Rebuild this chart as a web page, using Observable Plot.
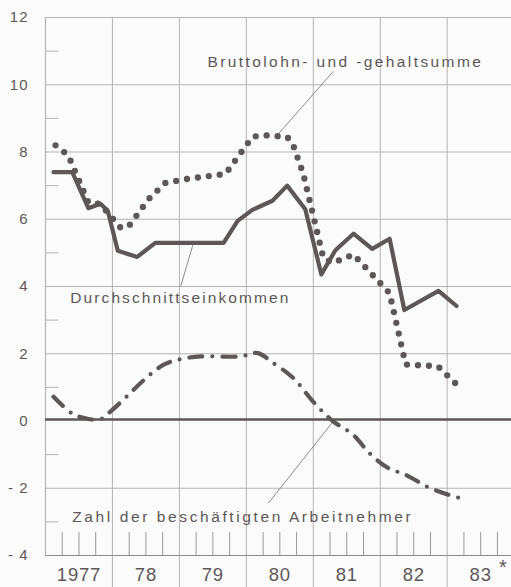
<!DOCTYPE html>
<html><head><meta charset="utf-8">
<script src="https://cdn.jsdelivr.net/npm/d3@7"></script>
<script src="https://cdn.jsdelivr.net/npm/@observablehq/plot@0.6"></script>
<style>
html,body{margin:0;padding:0;background:#fbfbfb;}
#chart svg{display:block;}
</style></head><body><div id="chart"></div>
<script>
// y axis
const yTicks = [12, 10, 8, 6, 4, 2, 0, -2, -4];
const yGrid = [10, 8, 6, 4, 2, -2];
const yMinor = [11, 9, 7, 5, 3, 1, -1, -3];
// x axis (years)
const years = [1977, 1978, 1979, 1980, 1981, 1982, 1983];
const yearLabels = ["1977", "78", "79", "80", "81", "82", "83"];
const yearBounds = [1978, 1979, 1980, 1981, 1982, 1983];
const quarterTicks = years.flatMap(y => [y + 0.25, y + 0.5, y + 0.75]);

// Durchschnittseinkommen (solid)
const einkommenX = [1977.12, 1977.40, 1977.64, 1977.82, 1977.93, 1978.08, 1978.37, 1978.64, 1979.66, 1979.87, 1980.09, 1980.39, 1980.61, 1980.88, 1981.12, 1981.33, 1981.60, 1981.88, 1982.14, 1982.36, 1982.87, 1983.14];
const einkommenY = [7.4, 7.4, 6.33, 6.46, 6.25, 5.06, 4.88, 5.3, 5.3, 5.95, 6.28, 6.55, 7.0, 6.3, 4.36, 5.08, 5.57, 5.12, 5.42, 3.3, 3.87, 3.42];

// Bruttolohn- und -gehaltsumme (dotted)
const bruttoX = [1977.15, 1977.34, 1977.64, 1977.82, 1978.12, 1978.24, 1978.54, 1978.79, 1979.12, 1979.69, 1980.09, 1980.26, 1980.61, 1980.70, 1980.85, 1981.15, 1981.29, 1981.60, 1982.14, 1982.38, 1982.86, 1983.20];
const bruttoY = [8.2, 7.9, 6.5, 6.45, 5.75, 5.78, 6.6, 7.08, 7.2, 7.35, 8.45, 8.5, 8.45, 8.2, 7.35, 4.85, 4.7, 4.95, 3.8, 1.68, 1.63, 0.97];

// Zahl der beschäftigten Arbeitnehmer (dash-dot)
const zahlX = [1977.12, 1977.40, 1977.60, 1977.82, 1977.97, 1978.22, 1978.46, 1978.76, 1979.02, 1979.32, 1979.91, 1980.17, 1980.39, 1980.70, 1981.00, 1981.29, 1981.59, 1981.85, 1982.12, 1982.38, 1982.75, 1983.20];
const zahlY = [0.72, 0.22, 0.08, 0.05, 0.28, 0.74, 1.2, 1.67, 1.84, 1.92, 1.92, 2.02, 1.74, 1.28, 0.57, 0.0, -0.4, -0.98, -1.4, -1.6, -2.0, -2.3];

// annotations (label text, anchor position in data coordinates, leader line)
const labelTexts = ["Bruttolohn- und -gehaltsumme", "Durchschnittseinkommen", "Zahl der beschäftigten Arbeitnehmer"];
const labelX = [1979.42, 1977.37, 1977.40];
const labelY = [10.67, 3.66, -2.85];
const labelTracking = ["2.4px", "2.1px", "2.6px"];
const leaderX1 = [1981.30, 1979.02, 1980.33];
const leaderY1 = [10.40, 4.01, -2.44];
const leaderX2 = [1980.44, 1979.20, 1981.29];
const leaderY2 = [8.45, 5.23, -0.03];

const toRows = (xs, ys) => xs.map((x, i) => ({x, y: ys[i]}));
const einkommen = toRows(einkommenX, einkommenY);
const brutto = toRows(bruttoX, bruttoY);
const zahl = toRows(zahlX, zahlY);
const labels = labelTexts.map((t, i) => ({t, x: labelX[i], y: labelY[i]}));
const leaders = labelTexts.map((t, i) => ({x1: leaderX1[i], y1: leaderY1[i], x2: leaderX2[i], y2: leaderY2[i]}));
const yearRows = years.map((y, i) => ({x: y + 0.5, label: yearLabels[i]}));

const ink = "#5e5757";
const grid = "#b7b3b3";
const font = "'Liberation Sans', Arial, sans-serif";

const chart = Plot.plot({
  width: 511,
  height: 587,
  marginLeft: 45,
  marginRight: 0,
  marginTop: 17,
  marginBottom: 32,
  style: {background: "#fbfbfb", fontFamily: font, fontSize: "14px", color: ink},
  x: {domain: [1977, 1977 + 466 / 66.95], axis: null},
  y: {domain: [-4, 12], axis: null},
  marks: [
    Plot.ruleY(yGrid, {stroke: grid, strokeWidth: 1}),
    Plot.ruleY([12], {stroke: grid, strokeWidth: 1.2}),
    Plot.ruleX(yearBounds, {y1: -4.98, y2: 12, stroke: grid, strokeWidth: 1}),
    Plot.ruleX([1977], {y1: -4, y2: 12, stroke: grid, strokeWidth: 1.2}),
    Plot.ruleY(yMinor, {x1: 1977, x2: 1977.2, stroke: grid, strokeWidth: 1}),
    Plot.ruleX(quarterTicks, {y1: -4, y2: -3.32, stroke: "#9c9797", strokeWidth: 1}),
    Plot.ruleY([-4], {stroke: "#8f8a8a", strokeWidth: 1.2}),
    Plot.ruleY([0], {stroke: ink, strokeWidth: 2.6, dy: -1.5}),
    Plot.link(leaders, {x1: "x1", y1: "y1", x2: "x2", y2: "y2", stroke: "#8f8989", strokeWidth: 1}),
    Plot.line(zahl, {x: "x", y: "y", stroke: ink, strokeWidth: 4.2, strokeLinecap: "round", strokeDasharray: "13 10 0 10", curve: "catmull-rom"}),
    Plot.line(brutto, {x: "x", y: "y", stroke: ink, strokeWidth: 6.3, strokeLinecap: "round", strokeDasharray: "0 11"}),
    Plot.line(einkommen, {x: "x", y: "y", stroke: ink, strokeWidth: 4.2, strokeLinejoin: "round"}),
    Plot.text(labels, {x: "x", y: "y", text: "t", textAnchor: "start", fill: ink, fontSize: 15.5}),
    Plot.text(yearRows, {x: "x", y: -4, text: "label", dy: 20, fill: ink, fontSize: 18.5}),
    Plot.text(["*"], {x: 1983.83, y: -4, dy: 12, fill: ink, fontSize: 20}),
    Plot.axisY(yTicks, {tickSize: 0, tickPadding: 17, fontSize: 15, fill: ink, tickFormat: d => d < 0 ? "- " + (-d) : String(d)})
  ]
});

// typographic tracking, as in the printed original
d3.select(chart).selectAll("text").each(function () {
  const s = this.textContent;
  const li = labelTexts.indexOf(s);
  if (li >= 0) this.style.letterSpacing = labelTracking[li];
  else if (yearLabels.includes(s)) this.style.letterSpacing = "0.8px";
  else if (/^-?\s?\d+$/.test(s)) this.style.letterSpacing = "1px";
});
document.getElementById("chart").append(chart);
</script>
</body></html>
